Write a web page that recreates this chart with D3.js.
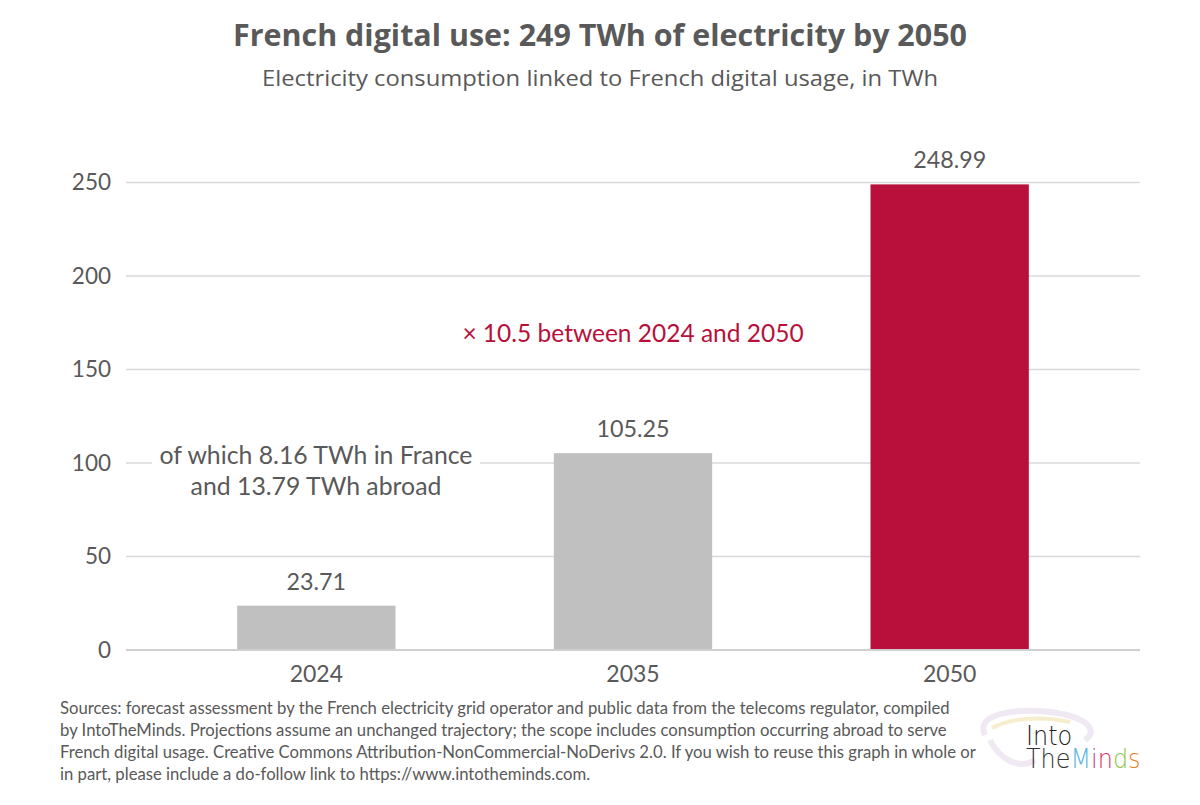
<!DOCTYPE html>
<html><head><meta charset="utf-8">
<script src="https://cdn.jsdelivr.net/npm/d3@7"></script>
<style>html,body{margin:0;padding:0;background:#fff;}svg{display:block;}</style>
</head><body>
<script>
const categories = ["2024", "2035", "2050"];
const values = [23.71, 105.25, 248.99];
const valueLabels = ["23.71", "105.25", "248.99"];
const yTicks = [0, 50, 100, 150, 200, 250];
const titleText = "French digital use: 249 TWh of electricity by 2050";
const subtitleText = "Electricity consumption linked to French digital usage, in TWh";
const noteLines = ["of which 8.16 TWh in France", "and 13.79 TWh abroad"];
const multiplierText = "× 10.5 between 2024 and 2050";
const sourceLines = [
  "Sources: forecast assessment by the French electricity grid operator and public data from the telecoms regulator, compiled",
  "by IntoTheMinds. Projections assume an unchanged trajectory; the scope includes consumption occurring abroad to serve",
  "French digital usage. Creative Commons Attribution-NonCommercial-NoDerivs 2.0. If you wish to reuse this graph in whole or",
  "in part, please include a do-follow link to https://www.intotheminds.com."
];
const logoLetters = [
  {t:"The", c:"#333"}, {t:"M", c:"#5ab6e2"}, {t:"i", c:"#c23a8e"},
  {t:"n", c:"#d6336a"}, {t:"d", c:"#8cc540"}, {t:"s", c:"#ef7f2e"}
];

const W = 1200, H = 805;
const svg = d3.select("body").append("svg").attr("width", W).attr("height", H);
const body = "Lato, 'Open Sans', sans-serif";
const grey = "#595959";

const gridX0 = 126, gridX1 = 1140;
const x = d3.scaleBand().domain(categories).range([158, 1108]).paddingInner(0.5).paddingOuter(0.25);
const y = d3.scaleLinear().domain([0, 250]).range([650, 182.5]);

// Title
svg.append("text").attr("x", 600).attr("y", 46).attr("text-anchor", "middle")
  .attr("font-family", "'Open Sans', sans-serif").attr("font-weight", 700).attr("font-size", 30)
  .attr("fill", grey).attr("textLength", 734).attr("lengthAdjust", "spacingAndGlyphs").text(titleText);
svg.append("text").attr("x", 600).attr("y", 86).attr("text-anchor", "middle")
  .attr("font-family", "'Open Sans', sans-serif").attr("font-weight", 400).attr("font-size", 22)
  .attr("fill", grey).attr("textLength", 676).attr("lengthAdjust", "spacingAndGlyphs").text(subtitleText);

// gridlines
svg.append("g").selectAll("line").data(yTicks.filter(d => d > 0)).join("line")
  .attr("x1", gridX0).attr("x2", gridX1).attr("y1", d => y(d)).attr("y2", d => y(d))
  .attr("stroke", "#d9d9d9").attr("stroke-width", 1.5);

// y labels
svg.append("g").selectAll("text").data(yTicks).join("text")
  .attr("x", 111).attr("y", d => y(d)).attr("dy", "0.35em").attr("text-anchor", "end")
  .attr("font-family", body).attr("font-size", 22.5).attr("fill", grey).text(d => d);

// bars
svg.append("g").selectAll("rect").data(values).join("rect")
  .attr("x", (d, i) => x(categories[i])).attr("width", x.bandwidth())
  .attr("y", d => y(d)).attr("height", d => y(0) - y(d))
  .attr("fill", (d, i) => i === 2 ? "#b8103b" : "#c0c0c0");

// baseline
svg.append("line").attr("x1", gridX0).attr("x2", gridX1).attr("y1", y(0)).attr("y2", y(0))
  .attr("stroke", "#d0d0d0").attr("stroke-width", 2);

// value labels
svg.append("g").selectAll("text").data(values).join("text")
  .attr("x", (d, i) => x(categories[i]) + x.bandwidth() / 2).attr("y", d => y(d) - 16)
  .attr("text-anchor", "middle").attr("font-family", body).attr("font-size", 23.3).attr("fill", grey)
  .text((d, i) => valueLabels[i]);

// x labels
svg.append("g").selectAll("text").data(categories).join("text")
  .attr("x", d => x(d) + x.bandwidth() / 2).attr("y", 682)
  .attr("text-anchor", "middle").attr("font-family", body).attr("font-size", 23).attr("fill", grey).text(d => d);

// note with white background
svg.append("rect").attr("x", 152).attr("y", 440).attr("width", 328).attr("height", 64).attr("fill", "#fff");
svg.append("g").selectAll("text").data(noteLines).join("text")
  .attr("x", 316).attr("y", (d, i) => 464 + i * 31).attr("text-anchor", "middle")
  .attr("font-family", body).attr("font-size", 24.8).attr("fill", grey).text(d => d);

// multiplier
svg.append("text").attr("x", 633).attr("y", 342).attr("text-anchor", "middle")
  .attr("font-family", body).attr("font-size", 24.5).attr("fill", "#b8103b").text(multiplierText);

// source
svg.append("g").selectAll("text").data(sourceLines).join("text")
  .attr("x", 60).attr("y", (d, i) => 714 + i * 22)
  .attr("font-family", body).attr("font-size", 16.7).attr("fill", grey).text(d => d);

// logo
const logo = svg.append("g");
logo.append("path").attr("d", "M985,735 C975,715 1010,708 1050,712 C1085,716 1100,730 1085,740 M990,740 C1000,760 1020,770 1035,760")
  .attr("fill", "none").attr("stroke", "#e6d8ea").attr("stroke-width", 6).attr("opacity", 0.6);
logo.append("path").attr("d", "M992,728 C1010,718 1040,716 1070,722").attr("fill", "none")
  .attr("stroke", "#f3e6b8").attr("stroke-width", 4).attr("opacity", 0.7);
const lt = logo.append("g").attr("transform", "translate(1026,745) scale(0.92,1)")
  .append("text").attr("font-family", "'DejaVu Sans', sans-serif")
  .attr("font-weight", 200).attr("font-size", 26);
lt.append("tspan").attr("x", 0).attr("y", 0).attr("fill", "#222").text("Into");
const l2 = lt.append("tspan").attr("x", 0).attr("y", 23);
l2.selectAll("tspan").data(logoLetters).join("tspan").attr("fill", d => d.c).text(d => d.t);
</script>
</body></html>
